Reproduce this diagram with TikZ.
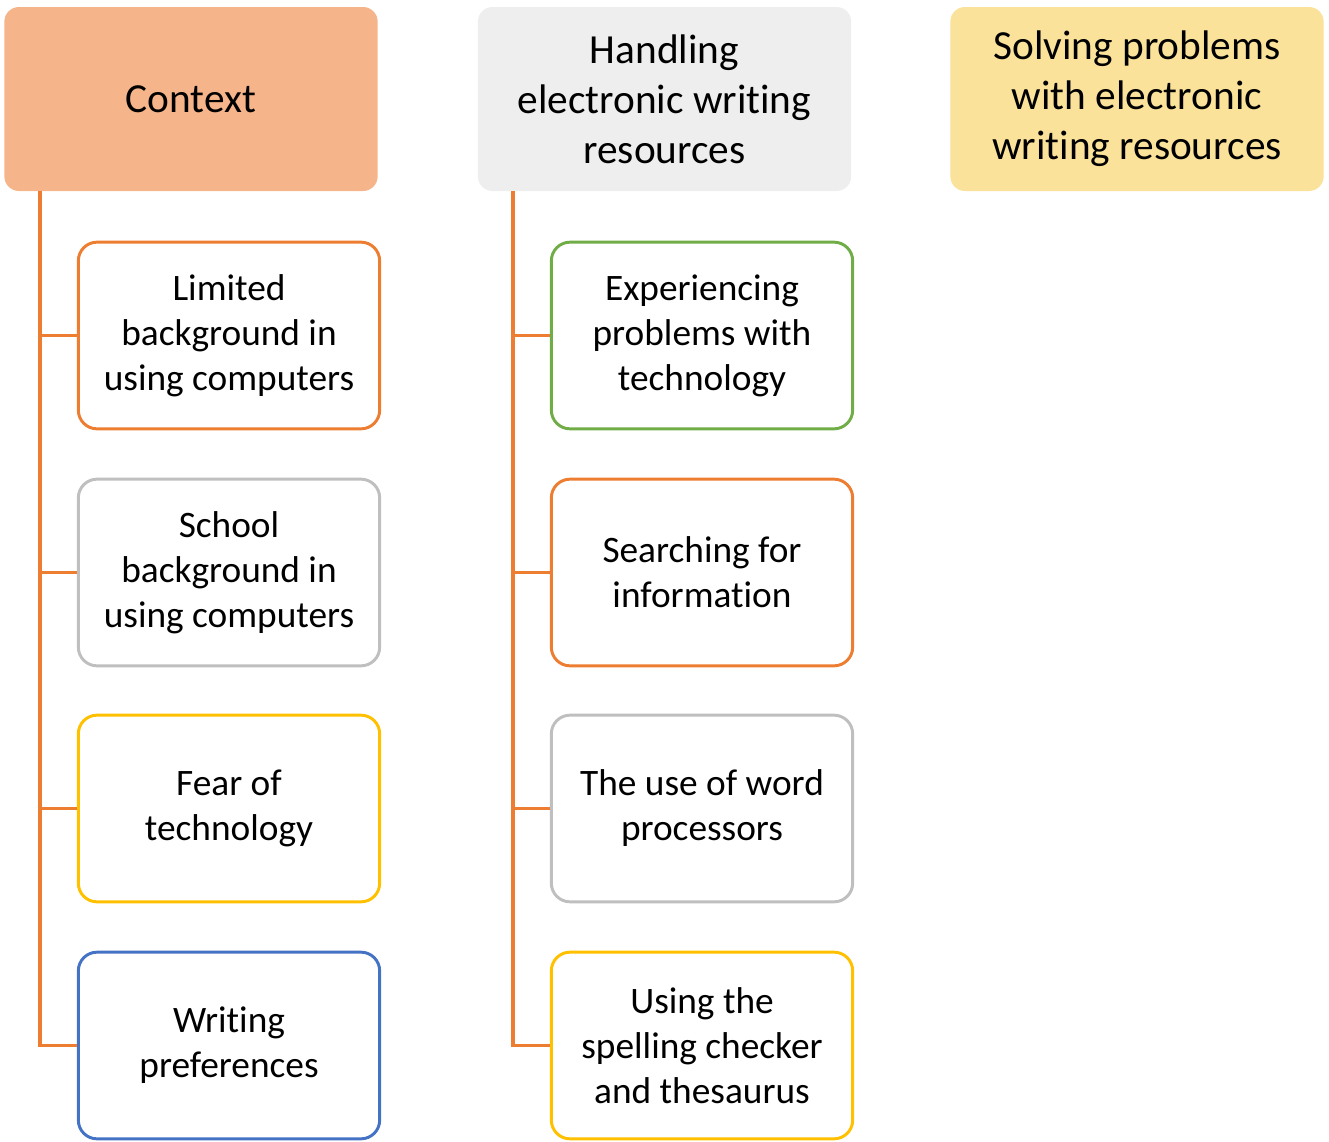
\documentclass[tikz,border=0pt]{standalone}
\usepackage{fontspec}
\setmainfont{Carlito}[Ligatures={NoCommon}]
\definecolor{ctxpeach}{RGB}{246, 180, 138}
\definecolor{hdlgray}{RGB}{237, 238, 237}
\definecolor{solvyellow}{RGB}{251, 226, 154}
\definecolor{lnorange}{RGB}{237, 125, 49}
\definecolor{lngray}{RGB}{191, 191, 191}
\definecolor{lnyellow}{RGB}{255, 192, 0}
\definecolor{lnblue}{RGB}{68, 114, 196}
\definecolor{lngreen}{RGB}{112, 173, 71}

\tikzset{
  header/.style={rounded corners=11pt, minimum width=280pt, minimum height=138pt, align=center, inner sep=0pt, font=\fontsize{31}{37.5}\selectfont},
  leaf/.style={rounded corners=14pt, draw, line width=2.2pt, fill=white, minimum width=226pt, minimum height=140pt, align=center, inner sep=0pt, font=\fontsize{28}{33.75}\selectfont},
  link/.style={draw=lnorange, line width=2.4pt}
}

\begin{document}
\begin{tikzpicture}[x=0.75pt, y=0.75pt]
\useasboundingbox (0,0) rectangle (1329,-1142);

% headers
\node[header, fill=ctxpeach] (ctx) at (191, -99) {Context};
\node[header, fill=hdlgray] (hdl) at (664.5, -99) {Handling\\electronic writing\\resources};
\node[header, fill=solvyellow] (solv) at (1137, -99) {Solving problems\\with electronic\\writing resources};

% context branch
\node[leaf, draw=lnorange] (lim) at (229, -335.5) {Limited\\background in\\using computers};
\node[leaf, draw=lngray] (sch) at (229, -572.5) {School\\background in\\using computers};
\node[leaf, draw=lnyellow] (fear) at (229, -808.5) {Fear of\\technology};
\node[leaf, draw=lnblue] (wri) at (229, -1045.5) {Writing\\preferences};

% handling branch
\node[leaf, draw=lngreen] (exp) at (702, -335.5) {Experiencing\\problems with\\technology};
\node[leaf, draw=lnorange] (sea) at (702, -572.5) {Searching for\\information};
\node[leaf, draw=lngray] (wp) at (702, -808.5) {The use of word\\processors};
\node[leaf, draw=lnyellow] (spl) at (702, -1045.5) {Using the\\spelling checker\\and thesaurus};

% connectors
\coordinate (t1) at (40, -191);
\coordinate (t2) at (513, -191);
\draw[link] (ctx.south -| t1) |- (wri.west);
\draw[link] (hdl.south -| t2) |- (spl.west);
\foreach \n in {lim, sch, fear} \draw[link] (t1 |- \n.west) -- (\n.west);
\foreach \n in {exp, sea, wp} \draw[link] (t2 |- \n.west) -- (\n.west);
\end{tikzpicture}
\end{document}
